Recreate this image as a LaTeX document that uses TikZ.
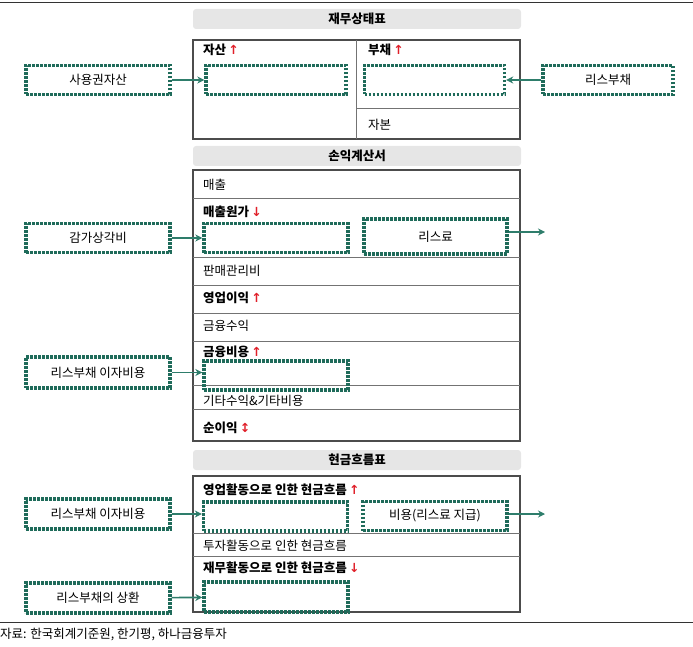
\documentclass[tikz,border=0pt]{standalone}
\usepackage{fontspec}
\setmainfont{Noto Sans CJK KR}
\newfontfamily\arrfont{DejaVu Sans}
\usetikzlibrary{arrows.meta}
\definecolor{teal1}{HTML}{1F6B5A}
\definecolor{teal2}{HTML}{2E7D6B}
\definecolor{redA}{HTML}{E0202A}
\definecolor{hdr}{HTML}{E6E6E6}
\newcommand{\upr}{\,{\arrfont\color{redA}\textbf{↑}}}
\newcommand{\dnr}{\,{\arrfont\color{redA}\textbf{↓}}}
\newcommand{\udr}{\,{\arrfont\color{redA}\textbf{↕}}}
\begin{document}
\begin{tikzpicture}[x=1pt,y=-1pt,font=\fontsize{12.5}{14}\selectfont,
  dbox/.style={draw=teal1,line width=3.4pt,dash pattern=on 2.6pt off 1.4pt,minimum width=140,minimum height=29,inner sep=0pt},
  bf/.style={font=\fontsize{12.5}{14}\selectfont\bfseries},
  hdrbox/.style={fill=hdr,rounded corners=3pt,minimum width=328,minimum height=20,inner sep=0pt,bf},
  frame/.style={draw=black!70,line width=1.6pt},
  sep/.style={draw=black!55,line width=0.8pt},
  lbl/.style={anchor=west,inner sep=0pt},
  arr/.style={draw=teal2,line width=1.6pt,-{Stealth[length=7pt,width=7pt]}}]
\useasboundingbox (0,0) rectangle (693,647);
\draw[black!80,line width=0.8pt] (0,2) -- (693,2);
\draw[black!80,line width=0.8pt] (0,622) -- (693,622);
\node[lbl] (src) at (0,635) {자료: 한국회계기준원, 한기평, 하나금융투자};

% balance sheet
\node[hdrbox] (h1) at (357,19) {재무상태표};
\draw[frame] (193,40) rectangle (520,139);
\draw[sep] (356,40) -- (356,139);
\draw[sep] (356,108) -- (520,108);
\node[lbl,bf] (t1) at (203,50) {자산\upr};
\node[lbl,bf] (t2) at (368,50) {부채\upr};
\node[lbl] (t3) at (368,125) {자본};
\node[dbox] (i1) at (276,80) {};
\node[dbox] (i2) at (434.5,80) {};
\node[dbox,minimum width=144] (o1) at (98,80) {사용권자산};
\node[dbox,minimum width=130] (o2) at (608,80) {리스부채};
\draw[arr] (o1) -- (i1);
\draw[arr] (o2) -- (i2);

% income statement
\node[hdrbox] (h2) at (357,156) {손익계산서};
\draw[frame] (193,170) rectangle (520,441);
\foreach \y in {198,257,285,313,341,385,409} \draw[sep] (193,\y) -- (520,\y);
\node[lbl] (r1) at (203,185) {매출};
\node[lbl,bf] (r2) at (203,212) {매출원가\dnr};
\node[lbl] (r3) at (203,271) {판매관리비};
\node[lbl,bf] (r4) at (203,298) {영업이익\upr};
\node[lbl] (r5) at (203,326) {금융수익};
\node[lbl,bf] (r6) at (203,352) {금융비용\upr};
\node[lbl] (r7) at (203,401) {기타수익\&기타비용};
\node[lbl,bf] (r8) at (203,428) {순이익\udr};
\node[dbox,minimum width=144] (i3) at (276,238) {};
\node[dbox,minimum width=143,minimum height=35] (i4) at (435.5,236.5) {리스료};
\node[dbox,minimum width=144] (o3) at (98,238) {감가상각비};
\coordinate (e1) at (545,232);
\draw[arr] (o3) -- (i3);
\draw[arr] (i4.east |- e1) -- (e1);
\node[dbox,minimum width=144] (i5) at (276,375.5) {};
\node[dbox,minimum width=144,minimum height=31] (o4) at (98,372.5) {리스부채 이자비용};
\draw[arr] (o4.east) -- (i5.west |- o4.east);

% cash flow
\node[hdrbox] (h3) at (357,460) {현금흐름표};
\draw[frame] (193,476) rectangle (520,612);
\foreach \y in {533,556} \draw[sep] (193,\y) -- (520,\y);
\node[lbl,bf] (c1) at (203,490) {영업활동으로 인한 현금흐름\upr};
\node[lbl] (c2) at (203,546) {투자활동으로 인한 현금흐름};
\node[lbl,bf] (c3) at (203,568) {재무활동으로 인한 현금흐름\dnr};
\node[dbox,minimum width=144] (i6) at (275.5,516.5) {};
\node[dbox,minimum width=144] (i7) at (435,516) {비용(리스료 지급)};
\node[dbox,minimum width=144,minimum height=30] (o5) at (98,514) {리스부채 이자비용};
\coordinate (e2) at (545,514);
\draw[arr] (o5) -- (i6.west |- o5);
\draw[arr] (i7.east |- e2) -- (e2);
\node[dbox,minimum width=144,minimum height=30] (i8) at (276,597) {};
\node[dbox,minimum width=144,minimum height=30] (o6) at (98,598) {리스부채의 상환};
\draw[arr] (o6) -- (i8);
\end{tikzpicture}
\end{document}
